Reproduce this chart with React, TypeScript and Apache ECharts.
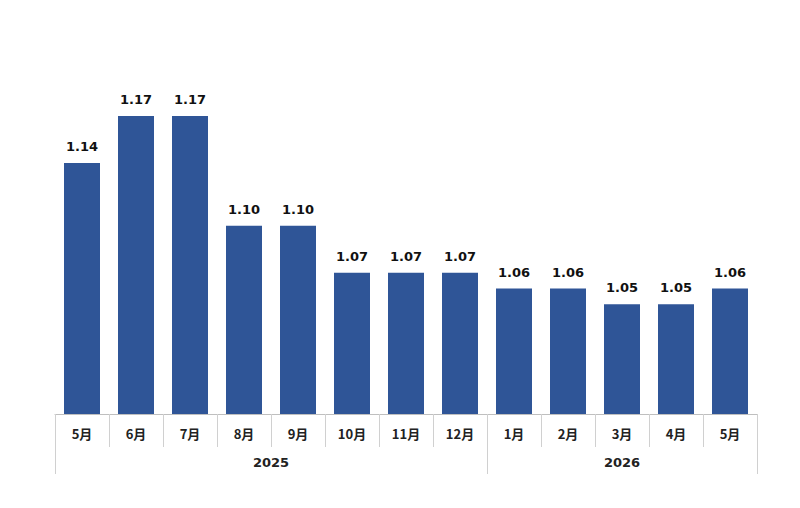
import { useEffect, useRef } from 'react';
import * as echarts from 'echarts';

const months = ['5月', '6月', '7月', '8月', '9月', '10月', '11月', '12月', '1月', '2月', '3月', '4月', '5月'];
const values = [1.14, 1.17, 1.17, 1.1, 1.1, 1.07, 1.07, 1.07, 1.06, 1.06, 1.05, 1.05, 1.06];
const years = ['2025', '2026'];
const yearStarts = [0, 8, 13];

export default function App() {
  const ref = useRef<HTMLDivElement>(null);

  useEffect(() => {
    if (!ref.current) return;
    const chart = echarts.init(ref.current, null, { renderer: 'svg' });
    const option: echarts.EChartsOption = {
      animation: false,
      grid: { left: 55, right: 43, top: 69, bottom: 94 },
      xAxis: {
        type: 'category',
        data: months,
        axisLine: { lineStyle: { color: '#bfbfbf' } },
        axisTick: { show: true, interval: 0, length: 33, lineStyle: { color: '#d0d0d0' } },
        axisLabel: { color: '#222', fontSize: 13, fontWeight: 'bold', margin: 13, fontFamily: 'Noto Sans CJK JP' },
      },
      yAxis: { type: 'value', min: 0.98, max: 1.2, show: false },
      series: [
        {
          type: 'bar',
          data: values,
          barWidth: 36,
          itemStyle: { color: '#2F5597' },
          label: {
            show: true,
            position: 'top',
            distance: 10,
            color: '#111',
            fontSize: 13,
            fontWeight: 'bold',
            fontFamily: 'Verdana, DejaVu Sans',
            formatter: (p: any) => Number(p.value).toFixed(2),
          },
        },
      ],
    };
    chart.setOption(option);

    const xAt = (b: number) => {
      const w = chart.convertToPixel({ xAxisIndex: 0 }, 1) - chart.convertToPixel({ xAxisIndex: 0 }, 0);
      return chart.convertToPixel({ xAxisIndex: 0 }, 0) - w / 2 + b * w;
    };
    const graphic: any[] = [];
    yearStarts.forEach((b) => {
      const x = Math.round(xAt(b)) + 0.5;
      graphic.push({ type: 'line', shape: { x1: x, y1: 447, x2: x, y2: 474 }, style: { stroke: '#d0d0d0', lineWidth: 1 } });
    });
    years.forEach((y, i) => {
      graphic.push({
        type: 'text',
        x: (xAt(yearStarts[i]) + xAt(yearStarts[i + 1])) / 2,
        y: 462,
        style: { text: y, fill: '#222', fontSize: 13, fontWeight: 'bold', fontFamily: 'Verdana, DejaVu Sans', align: 'center', verticalAlign: 'middle' },
      });
    });
    chart.setOption({ graphic });

    return () => chart.dispose();
  }, []);

  return <div ref={ref} style={{ width: 800, height: 508, position: 'fixed', left: 0, top: 0, background: '#fff' }} />;
}
